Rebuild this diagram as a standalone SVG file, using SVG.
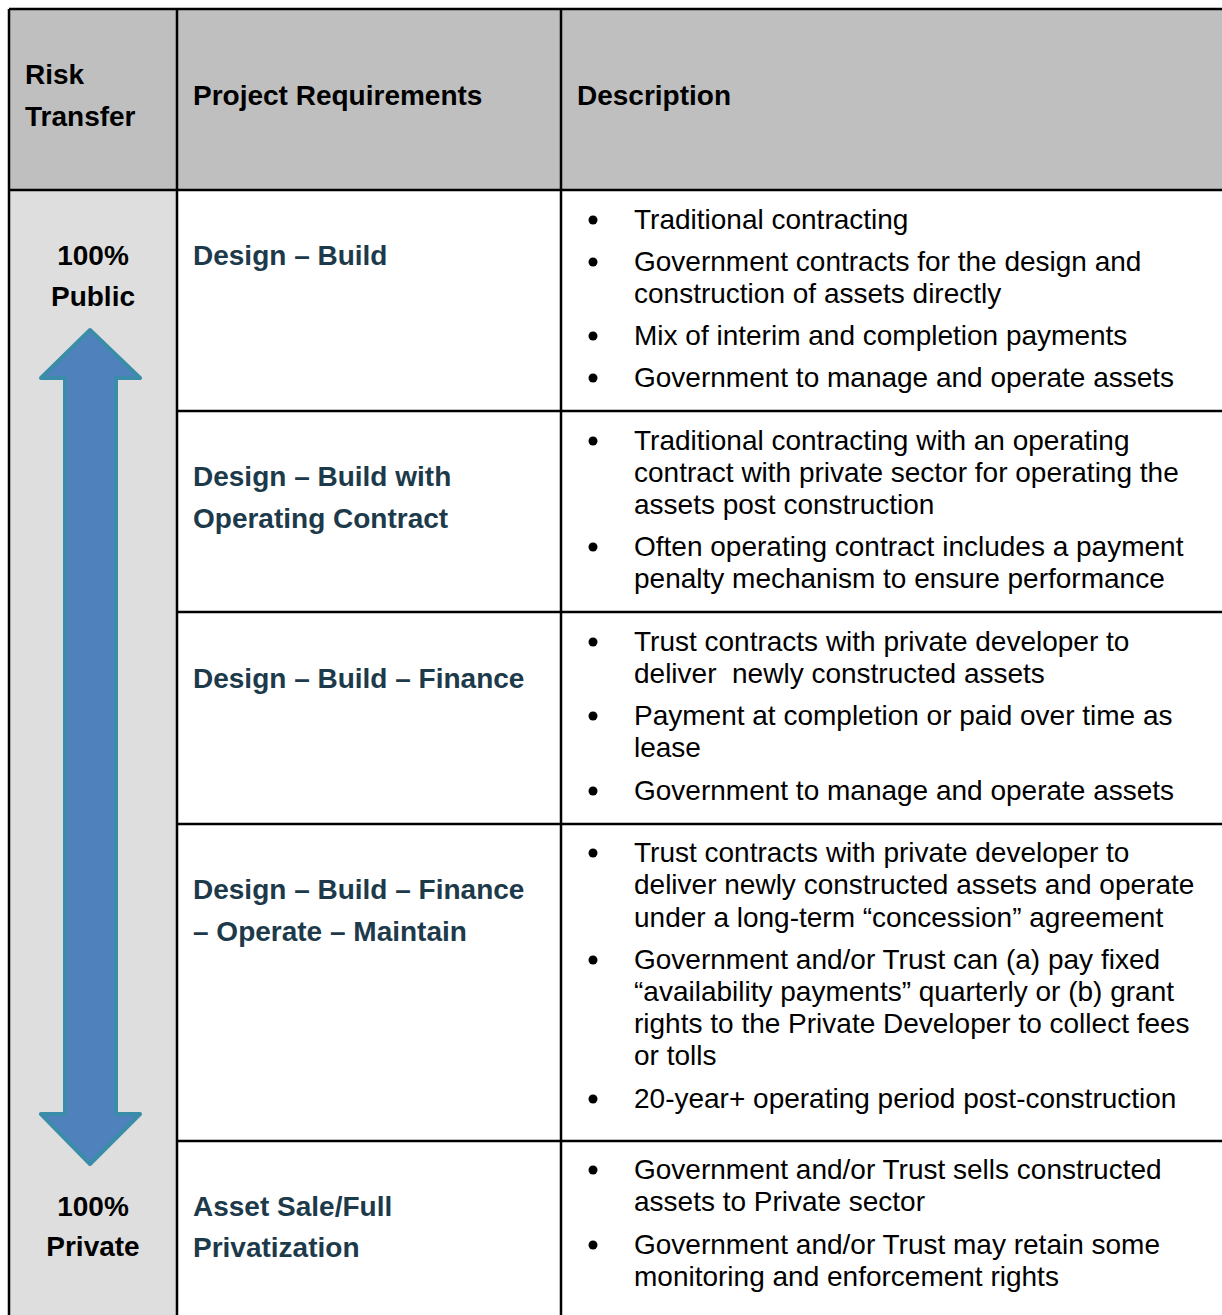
<svg xmlns="http://www.w3.org/2000/svg" width="1222" height="1315" viewBox="0 0 1222 1315">
<style>
.hdr{font-family:"Liberation Sans",Arial,sans-serif;font-size:28px;font-weight:bold;fill:#000}
.lbl{font-family:"Liberation Sans",Arial,sans-serif;font-size:28px;font-weight:bold;fill:#1D3A4B}
.rt{font-family:"Liberation Sans",Arial,sans-serif;font-size:28px;font-weight:bold;fill:#000;text-anchor:middle}
.d{font-family:"Liberation Sans",Arial,sans-serif;font-size:28px;fill:#000}
.ln{stroke:#000;stroke-width:2.5;fill:none}
.dot{fill:#000}
</style>
<rect x="0" y="0" width="1222" height="1315" fill="#fff"/>
<g id="header">
<rect x="9" y="9" width="1213" height="181" fill="#BFBFBF"/>
<text class="hdr" x="25" y="84">Risk</text>
<text class="hdr" x="25" y="126">Transfer</text>
<text class="hdr" x="193" y="105">Project Requirements</text>
<text class="hdr" x="577" y="105">Description</text>
</g>
<g id="risk-column">
<rect x="9" y="190" width="168" height="1125" fill="#DEDEDE"/>
<text class="rt" x="93" y="265">100%</text>
<text class="rt" x="93" y="306">Public</text>
<path d="M90,330 L140,378 L116,378 L116,1114 L140,1114 L90,1164 L41,1114 L65,1114 L65,378 L41,378 Z" fill="#4F81BD" stroke="#3A8CA8" stroke-width="4" stroke-linejoin="round"/>
<text class="rt" x="93" y="1216">100%</text>
<text class="rt" x="93" y="1256">Private</text>
</g>
<g id="connectors">
<line class="ln" x1="9" y1="9" x2="1222" y2="9"/>
<line class="ln" x1="9" y1="9" x2="9" y2="1315"/>
<line class="ln" x1="177" y1="9" x2="177" y2="1315"/>
<line class="ln" x1="561" y1="9" x2="561" y2="1315"/>
<line class="ln" x1="9" y1="190" x2="1222" y2="190"/>
<line class="ln" x1="177" y1="411" x2="1222" y2="411"/>
<line class="ln" x1="177" y1="612" x2="1222" y2="612"/>
<line class="ln" x1="177" y1="824" x2="1222" y2="824"/>
<line class="ln" x1="177" y1="1141" x2="1222" y2="1141"/>
</g>
<g id="row1">
<text class="lbl" x="193" y="265">Design – Build</text>
<circle class="dot" cx="593" cy="220" r="4.5"/>
<text class="d" x="634" y="229">Traditional contracting</text>
<circle class="dot" cx="593" cy="262" r="4.5"/>
<text class="d" x="634" y="271">Government contracts for the design and</text>
<text class="d" x="634" y="303">construction of assets directly</text>
<circle class="dot" cx="593" cy="336" r="4.5"/>
<text class="d" x="634" y="345">Mix of interim and completion payments</text>
<circle class="dot" cx="593" cy="378" r="4.5"/>
<text class="d" x="634" y="387">Government to manage and operate assets</text>
</g>
<g id="row2">
<text class="lbl" x="193" y="486">Design – Build with</text>
<text class="lbl" x="193" y="528">Operating Contract</text>
<circle class="dot" cx="593" cy="441" r="4.5"/>
<text class="d" x="634" y="450">Traditional contracting with an operating</text>
<text class="d" x="634" y="482">contract with private sector for operating the</text>
<text class="d" x="634" y="514">assets post construction</text>
<circle class="dot" cx="593" cy="547" r="4.5"/>
<text class="d" x="634" y="556">Often operating contract includes a payment</text>
<text class="d" x="634" y="588">penalty mechanism to ensure performance</text>
</g>
<g id="row3">
<text class="lbl" x="193" y="688">Design – Build – Finance</text>
<circle class="dot" cx="593" cy="642" r="4.5"/>
<text class="d" x="634" y="651">Trust contracts with private developer to</text>
<text class="d" x="634" y="683" xml:space="preserve">deliver  newly constructed assets</text>
<circle class="dot" cx="593" cy="716" r="4.5"/>
<text class="d" x="634" y="725">Payment at completion or paid over time as</text>
<text class="d" x="634" y="757">lease</text>
<circle class="dot" cx="593" cy="791" r="4.5"/>
<text class="d" x="634" y="800">Government to manage and operate assets</text>
</g>
<g id="row4">
<text class="lbl" x="193" y="899">Design – Build – Finance</text>
<text class="lbl" x="193" y="941">– Operate – Maintain</text>
<circle class="dot" cx="593" cy="853" r="4.5"/>
<text class="d" x="634" y="862">Trust contracts with private developer to</text>
<text class="d" x="634" y="894">deliver newly constructed assets and operate</text>
<text class="d" x="634" y="927">under a long-term “concession” agreement</text>
<circle class="dot" cx="593" cy="960" r="4.5"/>
<text class="d" x="634" y="969">Government and/or Trust can (a) pay fixed</text>
<text class="d" x="634" y="1001">“availability payments” quarterly or (b) grant</text>
<text class="d" x="634" y="1033">rights to the Private Developer to collect fees</text>
<text class="d" x="634" y="1065">or tolls</text>
<circle class="dot" cx="593" cy="1099" r="4.5"/>
<text class="d" x="634" y="1108">20-year+ operating period post-construction</text>
</g>
<g id="row5">
<text class="lbl" x="193" y="1216">Asset Sale/Full</text>
<text class="lbl" x="193" y="1257">Privatization</text>
<circle class="dot" cx="593" cy="1170" r="4.5"/>
<text class="d" x="634" y="1179">Government and/or Trust sells constructed</text>
<text class="d" x="634" y="1211">assets to Private sector</text>
<circle class="dot" cx="593" cy="1245" r="4.5"/>
<text class="d" x="634" y="1254">Government and/or Trust may retain some</text>
<text class="d" x="634" y="1286">monitoring and enforcement rights</text>
</g>
</svg>
